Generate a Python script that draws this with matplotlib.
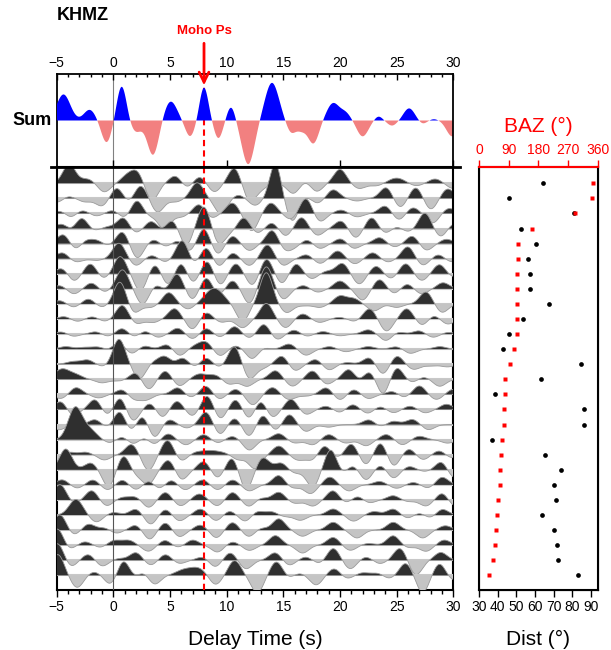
import numpy as np
import matplotlib
matplotlib.use("Agg")
import matplotlib.pyplot as plt
from matplotlib.lines import Line2D

plt.rcParams['font.family'] = ['Liberation Sans', 'DejaVu Sans']

station = "KHMZ"
moho_ps = 8.0

# stacked trace: (delay time s, amplitude, pulse width s)
sum_peaks = [(-4.4, 0.56, 0.6), (-2.1, 0.23, 0.5), (-0.6, -0.47, 0.45), (0.74, 0.74, 0.42),
             (2.0, -0.24, 0.5), (3.5, -0.74, 0.5), (5.06, 0.41, 0.55), (6.77, -0.34, 0.42),
             (8.0, 0.71, 0.38), (9.27, -0.38, 0.38), (10.4, 0.3, 0.36), (11.9, -0.94, 0.55),
             (14.0, 0.81, 0.6), (15.7, -0.26, 0.42), (16.6, -0.18, 0.4), (17.65, -0.49, 0.48),
             (19.4, 0.37, 0.55), (20.5, 0.15, 0.45), (22.0, -0.34, 0.5), (23.4, 0.09, 0.35),
             (24.6, -0.11, 0.42), (26.1, 0.26, 0.48), (27.3, -0.07, 0.35), (28.3, 0.03, 0.35),
             (29.9, -0.34, 0.5)]

# individual receiver functions, top to bottom: (delay time, amplitude[, width])
# amplitude in units of trace spacing
rf_peaks = [
    [(-3.9, 1.1, 0.55), (-2.3, 0.25, 0.6), (-0.8, -0.5), (1.2, 0.4), (2.1, 0.65), (3.4, -1.0), (5.5, 0.45),
     (6.5, -0.3), (7.6, 0.4), (8.9, -0.5), (10.7, 0.9), (12.0, -1.0), (13.0, -0.3), (15.9, -0.6), (17.0, 0.2),
     (17.9, -0.5), (20.0, 0.8), (21.7, -0.3), (23.2, -0.15), (25.0, 0.3, 0.7), (26.7, -0.15), (28.4, 0.25),
     (30.0, -0.3)],
    [(-4.8, -0.3), (-4.2, 0.2), (-2.5, -0.2), (-1.0, -0.45), (0.35, 0.65), (1.3, -0.3), (2.4, 0.75), (3.9, -0.8),
     (5.5, -0.2), (7.4, 0.9), (9.5, -0.9), (11.0, 0.2), (12.5, -0.4), (14.3, 2.0, 0.5), (15.8, -1.3), (17.0, 0.15),
     (18.0, -0.3), (19.4, 0.5), (21.5, -0.15), (24.1, 0.65), (25.3, -0.55), (26.7, 0.65), (28.0, -0.65),
     (29.5, 0.55)],
    [(-4.5, 0.2), (-3.8, -0.3), (-2.8, 0.2), (-1.5, -0.15), (0.0, 0.2), (1.0, -0.3), (2.1, 0.8), (3.0, -0.2),
     (4.5, -0.9), (6.0, -0.2), (7.6, 0.55), (8.6, -0.3), (10.5, 0.6), (12.2, -1.0), (13.9, 0.6), (15.7, -0.35),
     (17.0, 0.9), (18.2, -0.5), (20.1, 0.2), (21.5, -0.2), (24.0, 0.45), (25.2, -0.4), (26.4, 0.35),
     (28.2, -0.55), (29.6, 0.3)],
    [(-4.5, 0.3), (-3.7, -0.2), (-2.8, 0.65), (-1.8, -0.15), (-0.5, 0.1), (0.9, 0.65), (1.9, -0.3), (3.4, 0.45),
     (4.3, -0.2), (5.2, 0.55), (6.4, -1.0), (8.0, 1.3), (9.3, -0.9), (10.4, -0.2), (11.5, 0.65), (12.7, -0.3),
     (14.0, 0.35), (15.2, -0.45), (16.6, 0.65), (18.0, -0.4), (20.1, 0.45), (21.4, -0.55), (22.8, 0.65),
     (24.0, -0.3), (25.0, 0.15), (26.0, -0.2), (27.5, 0.9), (28.9, -0.5), (30.0, 0.3)],
    [(-4.4, 0.55), (-3.3, -0.4), (-2.5, 0.25), (-1.4, 0.2), (-0.5, -0.15), (0.8, 0.7), (2.1, -0.85), (3.6, 0.25),
     (4.6, -0.2), (5.8, 0.25), (6.7, -0.5), (8.0, 0.9), (9.2, -0.65), (10.5, 0.45), (12.0, -0.4), (14.05, 0.8),
     (15.1, -0.4), (16.0, -0.2), (17.1, 0.25), (18.2, -0.3), (20.1, 0.3), (21.2, -0.3), (23.5, 0.35),
     (24.8, -0.2), (26.4, 0.45), (27.6, -0.4), (29.4, 0.25)],
    [(-4.5, 0.35), (-3.3, -0.2), (-1.5, -0.1), (0.5, 0.9), (2.0, -0.4), (3.4, 0.2), (4.6, -0.2), (6.1, 1.1),
     (7.1, -0.4), (8.2, 0.7), (9.3, -0.5), (10.5, 0.35), (12.0, -0.4), (13.6, 0.8), (15.0, -0.4), (17.1, 0.25),
     (18.2, -0.3), (19.8, 0.45), (21.3, -0.3), (22.9, 0.35), (24.2, -0.2), (26.0, 0.7), (27.3, -0.4),
     (28.7, 0.25), (29.8, -0.2)],
    [(-4.5, 0.35), (-3.5, -0.45), (-2.0, 0.6), (-0.9, -0.3), (0.6, 1.0), (2.4, -1.0), (3.7, 0.6), (4.8, -0.7),
     (6.0, 0.7), (7.0, -0.6), (8.3, 0.8), (9.4, -0.7), (10.8, 0.6), (12.3, -0.7), (13.5, 0.9), (14.9, -0.6),
     (16.1, 0.6), (17.5, -0.3), (18.8, 0.15), (20.2, 0.6), (21.7, -0.6), (23.2, 0.45), (24.5, -0.3),
     (25.8, 0.6), (27.2, -0.4), (28.8, 0.55), (29.9, -0.2)],
    [(-4.7, 0.2), (-3.5, -0.3), (-1.9, 0.35), (-0.8, -0.2), (0.8, 1.1), (2.6, -0.9), (3.8, 0.3), (4.6, -0.2),
     (5.6, 0.9), (7.0, -0.65), (8.2, 0.7), (9.3, -0.4), (10.5, 0.5), (12.0, -0.85), (13.5, 1.3), (15.0, -0.6),
     (16.8, 0.2), (18.0, -0.2), (20.0, 0.45), (22.0, -0.65), (23.5, 0.55), (24.8, -0.3), (25.9, 0.3),
     (27.2, -0.3), (29.1, 0.35)],
    [(-4.7, 0.2), (-3.5, -0.2), (-2.2, 0.3), (-1.0, -0.2), (0.6, 1.3), (1.8, -0.55), (3.3, -0.2), (4.9, 0.65),
     (6.6, -0.3), (8.9, 0.9, 0.8), (11.4, -1.0), (13.5, 1.8), (15.3, -0.5), (16.8, -0.1), (18.2, -0.2),
     (20.0, 0.45), (21.2, 0.3), (23.0, -0.4), (25.0, -0.2), (27.6, 0.7), (29.0, -0.5)],
    [(-4.3, 0.15), (-3.2, -0.15), (-1.8, 0.15), (-0.8, -0.15), (0.8, 0.8), (2.0, -0.3), (3.5, -0.2), (5.4, 0.6),
     (7.0, -0.6), (8.2, 0.4), (9.5, -0.2), (11.4, -0.5), (13.5, 0.9), (15.2, -0.5), (16.7, 0.3), (18.2, -0.2),
     (20.0, 0.1), (21.3, -0.15), (22.6, 0.6), (24.1, -0.7), (25.9, 0.6), (27.3, -0.4), (28.2, 0.25),
     (29.5, -0.3)],
    [(-4.5, 0.15), (-3.6, -0.15), (-1.5, 0.15), (-0.5, -0.15), (0.8, 0.35), (1.8, -0.2), (2.8, 0.2), (3.9, -0.2),
     (5.7, 0.35), (7.0, -0.3), (8.2, 0.35), (9.4, -0.2), (10.7, 0.45), (12.0, -0.25), (13.3, 0.6), (14.4, -0.35),
     (16.0, 0.25), (17.0, -0.15), (18.5, 0.15), (20.0, -0.1), (22.5, 0.25), (24.1, -0.4), (25.0, 0.15),
     (27.0, 0.2), (28.2, -0.2), (29.5, 0.1)],
    [(-4.2, 0.15), (-2.6, 0.1), (-1.3, 0.15), (-0.5, -0.1), (0.5, 0.4), (1.6, -0.3), (2.7, 0.2), (4.8, 0.3),
     (5.8, -0.4), (7.3, 0.2), (8.2, 0.4), (9.4, -0.4), (10.8, 0.2), (12.3, -0.6), (13.0, 0.15), (15.5, 0.3),
     (17.0, -0.35), (19.1, 0.15), (20.5, -0.15), (22.5, 0.15), (25.0, 0.15), (26.2, -0.25), (28.8, 0.15)],
    [(-3.6, 0.15), (-2.3, 0.25), (-0.8, -0.15), (0.5, 1.45), (2.3, -0.85), (3.6, 0.15), (4.6, 0.5), (5.2, -0.15),
     (6.1, 0.4), (7.2, -0.2), (8.2, 0.4), (9.3, -0.2), (10.7, 1.05), (12.0, -0.85), (13.2, -0.2), (14.9, 0.5),
     (16.0, -0.4), (17.9, 0.3), (19.0, -0.35), (20.6, 0.1), (22.6, 0.4), (23.8, -0.6), (25.0, 0.5),
     (26.5, -0.3), (28.0, -0.1), (29.5, -0.15)],
    [(-4.5, 0.6, 0.7), (-3.2, 0.2), (-1.0, -0.2), (0.5, -0.1), (2.0, 0.4), (3.1, -0.6), (4.6, 0.5), (5.8, -0.4),
     (7.6, 0.3, 0.6), (9.0, 0.25, 0.6), (10.2, -0.3), (11.8, -0.4), (14.3, 0.5), (15.8, -0.4), (17.6, 0.5),
     (18.8, -0.3), (20.8, 0.6), (21.7, -0.2), (22.6, 0.5), (23.8, -0.9), (25.0, 0.7), (26.4, -0.2),
     (27.3, 0.15), (28.8, -0.4)],
    [(-4.6, -0.25), (-3.3, 0.4), (-1.3, -0.2), (0.8, 0.3), (1.8, -0.3), (2.9, -0.3), (5.7, 0.4), (6.8, -0.2),
     (8.2, 0.5), (9.3, -0.3), (10.8, 0.3), (12.3, -0.6), (14.05, 0.4), (15.5, -0.3), (17.0, -0.1), (18.8, 0.4),
     (20.0, -0.35), (21.2, 0.3), (22.5, -0.25), (24.7, 0.2), (25.6, -0.2), (27.0, 0.5), (28.5, -0.3),
     (30.0, 0.3)],
    [(-4.6, 0.5), (-3.6, -0.4), (-1.6, 0.6), (-0.5, -0.4), (0.6, 0.75), (1.7, -0.7), (3.3, 0.4), (4.3, -0.5),
     (5.6, 0.5), (7.0, -0.4), (8.3, 0.85), (9.4, -0.6), (10.8, 0.6), (12.0, -0.6), (13.0, 0.6), (14.0, -0.5),
     (15.7, 0.6), (17.0, -0.3), (18.8, 0.2), (20.0, -0.2), (21.1, 0.3), (22.5, -0.25), (23.5, 0.2),
     (24.7, -0.2), (26.2, 0.2), (27.5, -0.2), (29.4, 0.3)],
    [(-4.8, -0.3), (-1.6, 0.3), (-0.5, -0.2), (0.6, 0.85), (1.5, -0.5), (2.6, 0.6), (3.6, -0.8), (4.9, 0.3),
     (6.5, -0.2), (8.2, 0.75), (9.4, -0.6), (10.7, 0.4), (12.0, -0.7), (13.2, 0.6), (14.3, -0.4), (15.5, 0.6),
     (17.0, -0.4), (19.0, -0.15), (22.6, 0.3), (23.5, -0.15), (24.7, 0.2), (26.4, 0.3), (27.8, -0.3)],
    [(-3.4, 1.75, 0.6), (-2.2, 0.6, 0.7), (-0.3, -0.2), (0.8, 0.2), (1.8, -0.3), (2.7, 0.2), (3.6, -0.3),
     (4.8, 0.35), (6.4, -0.3), (8.0, 0.3), (9.2, -0.2), (10.5, 0.2), (12.0, -0.6), (14.6, 0.35), (16.0, -0.2),
     (17.6, -0.3), (19.0, 0.3), (20.5, -0.2), (22.3, -0.35), (24.1, 0.3), (25.5, -0.3), (27.0, 0.2),
     (29.5, -0.2)],
    [(-4.8, -0.5), (-4.2, 0.3), (-2.5, 0.15), (-0.8, -0.3), (1.6, 0.6), (3.1, -0.9), (4.8, 0.85), (6.0, -0.4),
     (7.3, 0.15, 0.7), (8.6, 0.2, 0.7), (9.8, 0.1, 0.7), (11.0, -0.3), (12.5, -0.8), (14.6, 0.5), (16.3, -0.3),
     (17.6, -0.35), (18.6, 0.55), (19.8, -0.2), (21.0, 0.65), (22.3, -0.6), (23.6, 0.75), (24.7, -0.7),
     (26.1, 0.35), (27.3, -0.3), (28.8, 0.25), (29.8, -0.2)],
    [(-4.2, 1.2), (-2.0, 0.4), (-0.4, -1.0), (0.9, 0.85), (2.0, -0.3), (3.1, -0.8), (4.9, 0.6), (6.0, -0.6),
     (8.0, 0.5), (9.2, -0.5), (10.5, 0.75), (11.7, -1.2), (13.2, 0.7), (14.8, 0.4), (16.0, -0.2), (17.6, -1.0),
     (19.2, 1.2), (20.2, -0.3), (21.1, 0.3), (22.3, -0.6), (23.6, 0.3), (24.7, -0.5), (26.1, 0.2),
     (27.5, -0.1), (29.0, 0.5), (30.0, -0.5)],
    [(-4.5, 0.3), (-3.2, -0.2), (-1.8, 0.3), (-0.5, -0.3), (0.8, 0.3), (2.0, -0.3), (3.2, 0.3), (4.0, -0.3),
     (5.1, 0.3), (6.3, -0.3), (7.9, 0.3), (9.2, -0.3), (10.5, 0.3), (12.0, -0.35), (14.6, 0.55), (15.8, -0.2),
     (17.4, -0.5), (19.1, 0.45), (20.8, -0.35), (23.5, 0.2), (25.0, -0.2), (26.5, 0.15), (27.8, -0.2),
     (29.0, 0.45)],
    [(-4.7, 0.9), (-3.5, -0.2), (-1.9, 0.55), (-0.6, -0.35), (0.8, 0.15), (2.0, 0.2), (3.1, -0.45), (4.6, 0.45),
     (5.9, -0.35), (7.6, 0.35), (9.2, -0.35), (10.5, 0.45), (12.0, -0.4), (12.9, 0.15), (14.6, 0.45),
     (16.0, -0.2), (17.6, -0.35), (19.4, 0.55), (20.5, -0.2), (21.6, 0.25), (22.5, -0.2), (24.7, 0.25),
     (26.0, -0.1), (27.6, -0.35), (29.1, 0.45), (30.0, -0.4)],
    [(-3.3, 0.9, 0.6), (-1.5, -0.4), (0.0, 0.15), (2.0, 0.35), (3.3, -0.55), (4.6, 0.35), (5.8, -0.35),
     (7.7, 0.35), (9.1, -0.35), (10.2, 0.25), (11.7, -0.4), (12.6, 0.25), (14.0, 0.2), (15.0, -0.1),
     (16.5, -0.3), (19.4, 0.35), (21.2, -0.35), (23.0, 0.2), (24.7, 0.35), (26.0, -0.2), (27.0, 0.15),
     (28.0, -0.2), (29.0, 0.35)],
    [(-4.7, 0.9), (-3.5, -0.3), (-2.2, 0.35), (-0.7, 0.15), (0.2, -0.2), (2.0, 0.3), (3.2, -0.55), (4.6, 0.45),
     (5.8, -0.4), (7.7, 0.3), (9.1, -0.45), (10.5, 0.45), (12.0, -0.4), (12.9, 0.15), (14.6, 0.65),
     (16.7, -0.35), (19.4, 0.45), (21.5, -0.45), (24.7, 0.45), (27.3, -0.45), (29.3, 0.25)],
    [(-4.9, 1.0), (-4.0, -0.3), (-2.5, 0.2), (-1.0, -0.2), (0.0, 0.3, 0.7), (1.4, 0.25), (3.1, -0.35),
     (4.6, 0.3), (5.6, -0.15), (7.0, 0.3), (9.2, -0.4), (10.5, 0.2), (12.0, -0.3), (14.3, 0.55), (16.7, -0.45),
     (19.4, 0.45), (20.9, -0.3), (22.5, 0.1), (24.7, 0.55), (26.0, -0.15), (27.6, -0.35), (29.2, 0.3)],
    [(-4.9, 1.0), (-3.8, -0.4), (-2.2, 0.35), (-1.0, -0.35), (0.5, 0.1), (2.0, 0.45), (3.3, -0.3), (4.6, 0.35),
     (5.8, -0.2), (7.9, 0.2), (9.0, -0.4), (10.3, 0.45), (11.7, -0.5), (14.3, 0.45), (15.5, -0.3), (17.0, 0.2),
     (18.2, -0.2), (19.4, 0.7), (20.9, -0.5), (22.3, 0.2), (23.5, -0.2), (25.3, 0.7), (26.7, -0.85),
     (28.9, 0.45)],
    [(-4.9, 1.2), (-3.2, -0.7), (-1.7, 0.2), (-0.2, -0.55), (0.9, 0.9), (1.8, -0.2), (2.7, 0.25), (3.6, -0.55),
     (6.2, 0.3, 0.7), (7.5, 0.4, 0.7), (9.0, -0.55), (10.7, 0.85), (12.7, -1.0), (14.4, 0.8), (15.5, -0.2),
     (16.3, 0.15), (17.9, -0.55), (19.5, 0.4), (20.6, -0.2), (22.0, 0.15), (23.4, 0.15), (24.3, -0.2),
     (25.8, 0.7), (27.3, -1.0), (28.8, 0.7), (29.9, -0.3)],
]

# back azimuth (deg) and epicentral distance (deg) of each trace, top to bottom
baz = [347, 342, 291, 160, 117, 117, 116, 116, 116, 115, 114, 106, 93, 78,
       78, 76, 76, 71, 67, 64, 63, 57, 55, 52, 48, 42, 30]
dist = [64.5, 45.9, 80.9, 52.5, 60.5, 56.3, 57.5, 57.5, 67.3, 53.4, 46.3, 43.0, 84.5, 63.4,
        38.4, 86.4, 86.4, 37.0, 65.4, 74.1, 70.4, 71.0, 63.9, 70.0, 72.0, 72.5, 82.9]


def wiggle(peaks, t, width=0.55):
    """Build a trace from its picked pulses"""
    y = np.zeros_like(t)
    for p in peaks:
        w = p[2] if len(p) > 2 else width
        y += p[1] * np.exp(-0.5 * ((t - p[0]) / w) ** 2)
    return y


W, H = 611, 650
gain = 1.15  # trace plotting gain


def box(left, top, right, bottom):
    return [left / W, 1 - bottom / H, (right - left) / W, (bottom - top) / H]


fig = plt.figure(figsize=(W / 100, H / 100), dpi=100)
ax_sum = fig.add_axes(box(56.7, 74, 453.3, 167))
ax_rf = fig.add_axes(box(56.7, 167, 453.3, 590))
ax_d = fig.add_axes(box(479, 167, 597.7, 590))

t = np.linspace(-5, 30, 1400)

# --- stacked trace
s = wiggle(sum_peaks, t)
ax_sum.fill_between(t, 0, s, where=s >= 0, interpolate=True, color='#0000ff', lw=0, zorder=3)
ax_sum.fill_between(t, 0, s, where=s <= 0, interpolate=True, color='#f28080', lw=0, zorder=1)
ax_sum.axvline(0, color='#808080', lw=0.8, zorder=0)
ax_sum.axvline(moho_ps, color='red', lw=1.5, ls=(0, (3, 2)), zorder=2)
ax_sum.set_xlim(-5, 30)
ax_sum.set_ylim(-1, 1)
ax_sum.set_yticks([])
ax_sum.xaxis.tick_top()
ax_sum.set_xticks(np.arange(-5, 31, 5))
ax_sum.set_xticks(np.arange(-5, 31, 1), minor=True)
ax_sum.tick_params(axis='x', which='major', direction='in', length=4, width=1, labelsize=10, pad=3)
ax_sum.tick_params(axis='x', which='minor', direction='in', length=2.5, width=1)
for sp in ax_sum.spines.values():
    sp.set_linewidth(1.3)
ax_sum.text(-0.012, 0.5, 'Sum', transform=ax_sum.transAxes, ha='right', va='center',
            fontsize=13, fontweight='bold')
peak_amp = wiggle(sum_peaks, np.array([moho_ps]))[0]
ax_sum.annotate('', xy=(moho_ps, peak_amp), xytext=(moho_ps, 1.36),
                textcoords=('data', 'axes fraction'),
                arrowprops=dict(arrowstyle='->,head_length=0.7,head_width=0.35', color='red', lw=2),
                annotation_clip=False)
ax_sum.text(moho_ps, 1.46, 'Moho Ps', transform=ax_sum.get_xaxis_transform(), ha='center',
            va='center', color='red', fontsize=9.5, fontweight='bold')
# sum panel bottom: small inward marks
sec = ax_sum.secondary_xaxis('bottom')
sec.set_xticks(np.arange(0, 31, 10))
sec.tick_params(direction='in', length=5, width=1, labelbottom=False)

# --- individual traces
for i, peaks in enumerate(rf_peaks):
    base = -i
    y = base + gain * wiggle(peaks, t)
    z = 2 + i * 0.1
    ax_rf.plot([-5, 30], [base, base], color='#c8c8c8', lw=1.5, zorder=z)
    ax_rf.fill_between(t, base, y, where=y >= base, interpolate=True, color='#2f2f2f', lw=0, zorder=z)
    ax_rf.fill_between(t, base, y, where=y <= base, interpolate=True, color='#c4c4c4', lw=0, zorder=z)
    ax_rf.plot(t, y, color='#9a9a9a', lw=0.6, zorder=z)
ax_rf.axvline(0, color='#555555', lw=0.8, zorder=20)
ax_rf.axvline(moho_ps, color='red', lw=1.5, ls=(0, (3, 2)), zorder=21)
ax_rf.set_xlim(-5, 30)
ax_rf.set_ylim(-26.97, 1.08)
ax_rf.set_yticks([])
ax_rf.set_xticks(np.arange(-5, 31, 5))
ax_rf.set_xticks(np.arange(-5, 31, 1), minor=True)
ax_rf.tick_params(axis='x', which='major', direction='out', length=5, width=1, labelsize=10, pad=2)
ax_rf.tick_params(axis='x', which='minor', direction='out', length=3, width=1)
for sp in ax_rf.spines.values():
    sp.set_linewidth(1.5)
ax_rf.set_xlabel('Delay Time (s)', fontsize=15, labelpad=12)

# --- distance / back azimuth
rows = -np.arange(len(dist))
ax_d.plot(dist, rows, 'o', color='black', ms=3.4, mec='none')
ax_d.set_xlim(30, 93.6)
ax_d.set_ylim(-26.97, 1.08)
ax_d.set_yticks([])
ax_d.set_xticks(np.arange(30, 91, 10))
ax_d.tick_params(axis='x', direction='out', length=5, width=1, labelsize=10, pad=2)
ax_d.set_xlabel('Dist (°)', fontsize=15, labelpad=12)
for sp in ax_d.spines.values():
    sp.set_linewidth(1.5)

ax_b = ax_d.twiny()
ax_b.plot(baz, rows, 's', color='red', ms=2.8, mec='none')
ax_b.set_xlim(0, 360)
ax_b.set_xticks([0, 90, 180, 270, 360])
ax_b.tick_params(axis='x', direction='out', length=5, width=1, labelsize=10, pad=2,
                 colors='red')
ax_b.spines['top'].set_color('red')
ax_b.spines['top'].set_linewidth(1.5)
ax_b.set_xlabel('BAZ (°)', fontsize=15, color='red', labelpad=8)

fig.text(57 / W, 1 - 16 / H, station, fontsize=13, fontweight='bold', ha='left', va='center')
fig.add_artist(Line2D([51 / W, 460 / W], [1 - 167 / H, 1 - 167 / H], color='black', lw=2))

fig.savefig('out.png', dpi=100)
